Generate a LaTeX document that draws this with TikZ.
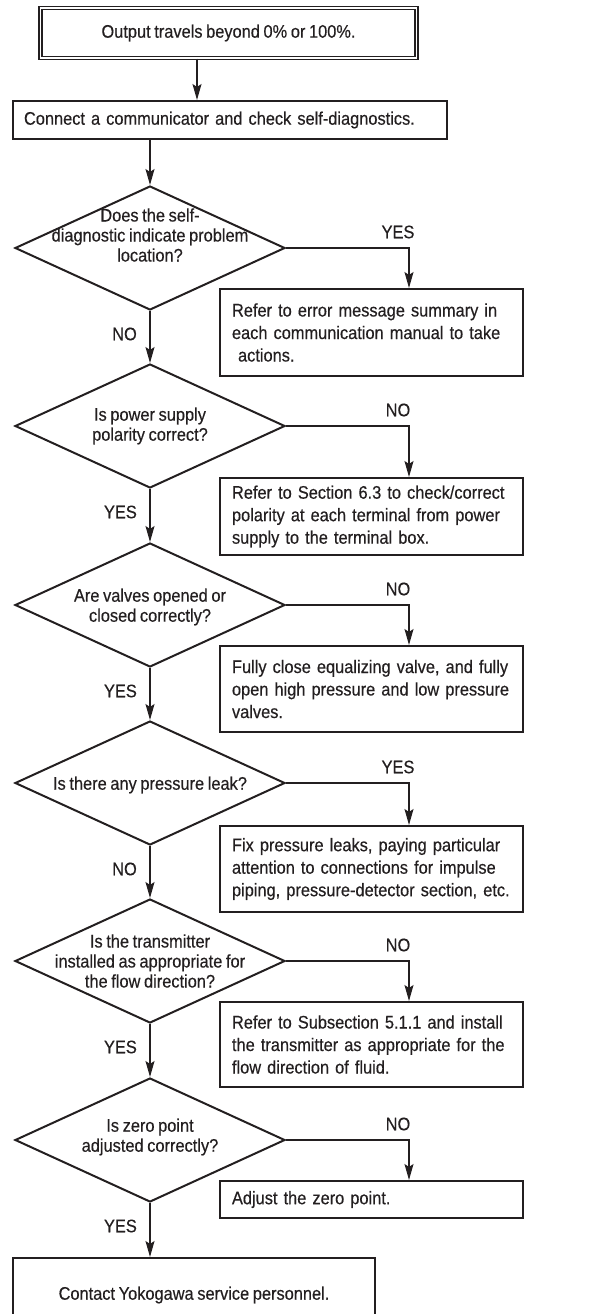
\documentclass[tikz,border=0pt]{standalone}
\usepackage{fontspec}
\setmainfont[FakeStretch=0.9,WordSpace=0.8,FakeBold=0.4]{Liberation Sans}
\usetikzlibrary{arrows.meta,shapes.geometric}
\definecolor{ink}{RGB}{35,31,32}
\tikzset{
  box/.style={draw=ink,line width=2pt,inner sep=0pt,text=ink},
  startbox/.style={box,double=white,line width=1.4pt,double distance=1.6pt,
    minimum width=376pt,minimum height=50pt},
  action/.style={box,anchor=north west,align=left,inner xsep=12pt,
    text width=#1},
  action/.default=279pt,
  decision/.style={diamond,draw=ink,line width=2pt,minimum width=270pt,
    minimum height=124pt,inner sep=0pt},
  ask/.style={align=center,text=ink,inner sep=0pt,
    font=\fontsize{18.2}{20}\selectfont},
  lbl/.style={text=ink,inner sep=0pt},
  flow/.style={-{Stealth[length=16pt,width=9pt,inset=3pt]},line width=1.1pt,draw=ink},
}
\begin{document}
\begin{tikzpicture}[x=1pt,y=-1pt,font=\fontsize{18.2}{22.5}\selectfont]
  \useasboundingbox (0,0) rectangle (593,1314);
  \coordinate (xs) at (197,0);
  \coordinate (xr) at (409,0);

  % start and first check
  \node[startbox] (start) at (228.5,33) {Output travels beyond 0\% or 100\%.};
  \node[action=412pt,inner xsep=11pt,minimum height=38pt] (check) at (12,100)
    {Connect a communicator and check self-diagnostics.};

  % decisions
  \foreach \i/\y/\dy/\q in {
      1/248/13/{Does the self-\\diagnostic indicate problem\\location?},
      2/426/0/{Is power supply\\polarity correct?},
      3/605/-2/{Are valves opened or\\closed correctly?},
      4/783/-2/{Is there any pressure leak?},
      5/961/0/{Is the transmitter\\installed as appropriate for\\the flow direction?},
      6/1140/3/{Is zero point\\adjusted correctly?}}{
    \node[decision] (d\i) at (150,\y) {};
    \node[ask] (q\i) at ([yshift=\dy pt]d\i.center) {\q};
  }

  % actions
  \node[action,minimum height=87pt] (a1) at (219,288)
    {Refer to error message summary in\\each communication manual to take\\~actions.};
  \node[action,minimum height=77pt] (a2) at (219,477)
    {Refer to Section 6.3 to check/correct\\polarity at each terminal from power\\supply to the terminal box.};
  \node[action,minimum height=86pt] (a3) at (219,645)
    {Fully close equalizing valve, and fully\\open high pressure and low pressure\\valves.};
  \node[action,minimum height=86pt] (a4) at (219,825)
    {Fix pressure leaks, paying particular\\attention to connections for impulse\\piping, pressure-detector section, etc.};
  \node[action,minimum height=85pt] (a5) at (219,1001)
    {Refer to Subsection 5.1.1 and install\\the transmitter as appropriate for the\\flow direction of fluid.};
  \node[action,minimum height=37pt] (a6) at (219,1180) {Adjust the zero point.};
  \node[box,minimum width=362pt,minimum height=74pt] (contact) at (194,1295)
    {Contact Yokogawa service personnel.};

  % connectors
  \draw[flow] (xs |- start.south) -- (xs |- check.north);
  \draw[flow] (d1.north |- check.south) -- (d1.north);
  \foreach \i/\j in {1/2,2/3,3/4,4/5,5/6}
    \draw[flow] (d\i.south) -- (d\j.north);
  \draw[flow] (d6.south) -- (d6.south |- contact.north);
  \foreach \i/\r/\b in {1/YES/NO,2/NO/YES,3/NO/YES,4/YES/NO,5/NO/YES,6/NO/YES}{
    \draw[flow] (d\i.east) -| (xr |- a\i.north);
    \node[lbl] (r\i) at ([xshift=112pt,yshift=16pt]d\i.east) {\r};
    \node[lbl,anchor=east] (b\i) at ([xshift=-13pt,yshift=-23pt]d\i.south) {\b};
  }
\end{tikzpicture}
\end{document}
